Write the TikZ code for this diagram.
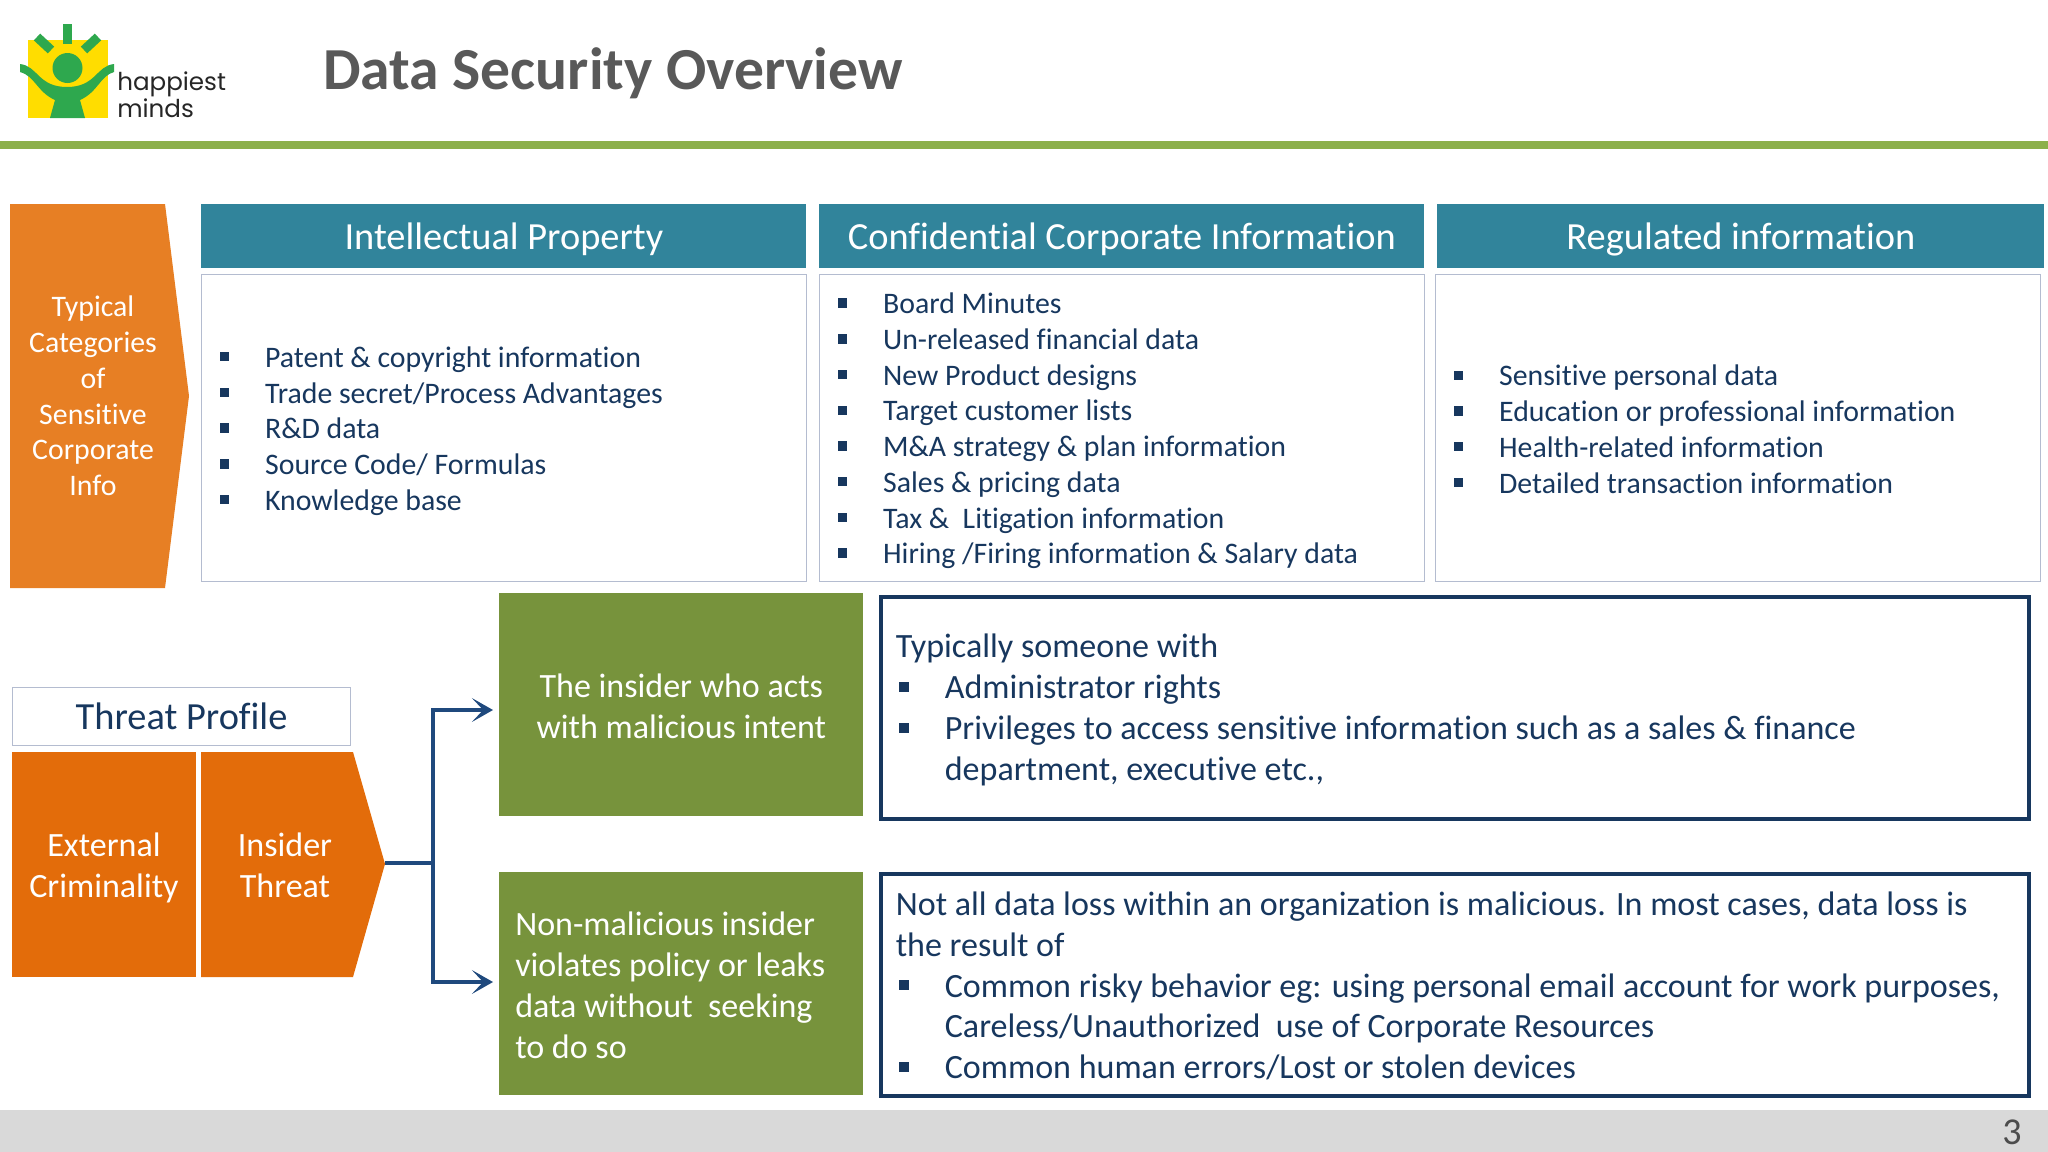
\documentclass[tikz,border=0pt]{standalone}
\usepackage{fontspec}
\setmainfont{Carlito}[Ligatures={NoCommon}]
\newfontfamily\logofont{Poppins}
\usetikzlibrary{positioning,arrows.meta}
\definecolor{headblue}{HTML}{31849B}
\definecolor{catorange}{HTML}{E77F24}
\definecolor{threatorange}{HTML}{E36C0A}
\definecolor{insidergreen}{HTML}{77933C}
\definecolor{barGreen}{HTML}{8CB04B}
\definecolor{navy}{HTML}{17375E}
\definecolor{linkblue}{HTML}{1F497D}
\definecolor{thinline}{HTML}{B4BCD0}
\definecolor{logoyellow}{HTML}{FFDD00}
\definecolor{logogreen}{HTML}{2EA84E}
\newenvironment{bulletlist}[3]{%
  \begin{list}{\rule[0.2em]{#1}{#1}}{\setlength{\topsep}{0pt}\setlength{\partopsep}{0pt}%
    \setlength{\parsep}{0pt}\setlength{\itemsep}{0pt}\setlength{\labelwidth}{#1}%
    \setlength{\leftmargin}{#3}\setlength{\labelsep}{#2}\setlength{\rightmargin}{0pt}}}%
  {\end{list}}
\newcommand{\smallfont}{\fontsize{21.2}{25.4}\selectfont}
\newcommand{\bigfont}{\fontsize{24.2}{29.1}\selectfont}
\begin{document}
\begin{tikzpicture}[x=0.025cm,y=-0.025cm, line cap=butt, line join=miter,
  header/.style={fill=headblue, text=white, font=\fontsize{27.3}{32}\selectfont, minimum width=15.125cm, minimum height=1.6cm, inner sep=0pt, anchor=north west},
  listbox/.style={draw=thinline, line width=0.7pt, text=navy, font=\smallfont, minimum height=7.675cm, text width=14.325cm, inner xsep=0.4cm, inner ysep=0pt, anchor=north west, align=flush left},
  greenbox/.style={fill=insidergreen, text=white, font=\bigfont, minimum width=9.1cm, minimum height=5.575cm, inner sep=0pt, anchor=north west},
  detailbox/.style={draw=navy, line width=2.6pt, text=navy, font=\bigfont, minimum height=5.55cm, text width=27.95cm, inner xsep=0.375cm, inner ysep=0pt, anchor=north west, align=flush left},
  logotype/.style={font=\fontsize{17.5}{21}\selectfont\logofont, text=black!85, anchor=base west, inner sep=0pt},
  flow/.style={draw=linkblue, line width=2.2pt},
  arrowflow/.style={flow, -{Stealth[length=15pt, width=17pt, inset=8pt]}}
  ]
\useasboundingbox (0,0) rectangle (2048,1152);

% logo
\fill[logoyellow] (28,40) rectangle (108,118);
\draw[logogreen, line width=6.6pt] (67.5,24) -- (67.5,44);
\draw[logogreen, line width=6.6pt] (37,37) -- (51,50);
\draw[logogreen, line width=6.6pt] (98,37) -- (84,50);
\fill[logogreen] (67.5,68) circle (15);
\fill[logogreen] (20,64) .. controls (38,66) and (38,87) .. (67,87) .. controls (96,87) and (96,66) .. (114,64)
  -- (114,72) .. controls (100,76) and (98,92) .. (80,100) -- (85,118) -- (50,118) -- (55,100) .. controls (37,92) and (35,76) .. (20,72) -- cycle;
\node[logotype] (logotop) at (117,90) {happiest};
\node[logotype] (logobottom) at (117,117) {minds};

% title and bars
\node[anchor=west, inner sep=0pt, text=black!65, font=\fontsize{42.4}{50}\selectfont\bfseries] (title) at (323,73) {Data Security Overview};
\fill[barGreen] (0,141) rectangle (2048,149);
\fill[black!15] (0,1110) rectangle (2048,1152);
\node[text=black!70, font=\fontsize{27}{32}\selectfont, inner sep=0pt] (pageno) at (2012,1132) {3};

% categories
\fill[catorange] (10,204) -- (165,204) -- (189,396) -- (165,588) -- (10,588) -- cycle;
\node[text=white, font=\smallfont, align=flush center, inner sep=0pt] (categories) at (93,396) {Typical\\Categories\\of\\Sensitive\\Corporate\\Info};

\node[header, text depth=-3pt] (ip) at (201,204) {Intellectual Property};
\node[header, text depth=-3pt] (cci) at (819,204) {Confidential Corporate Information};
\node[header, text depth=-3pt, minimum width=15.175cm] (reg) at (1437,204) {Regulated information};

\node[listbox] (ipbox) at (201,274) {\begin{bulletlist}{0.235cm}{0.895cm}{1.19cm}
  \item Patent \& copyright information
  \item Trade secret/Process Advantages
  \item R\&D data
  \item Source Code/ Formulas
  \item Knowledge base
\end{bulletlist}\vspace{6.5pt}};
\node[listbox] (ccibox) at (819,274) {\begin{bulletlist}{0.235cm}{0.895cm}{1.19cm}
  \item Board Minutes
  \item Un-released financial data
  \item New Product designs
  \item Target customer lists
  \item M\&A strategy \& plan information
  \item Sales \& pricing data
  \item Tax \&\ \ Litigation information
  \item Hiring /Firing information \& Salary data
\end{bulletlist}\vspace{6.5pt}};
\node[listbox] (regbox) at (1435,274) {\begin{bulletlist}{0.235cm}{0.895cm}{1.19cm}
  \item Sensitive personal data
  \item Education or professional information
  \item Health-related information
  \item Detailed transaction information
\end{bulletlist}\vspace{9pt}};

% threat profile
\node[draw=thinline, line width=0.7pt, text=navy, font=\fontsize{27.3}{32}\selectfont, minimum width=8.45cm, minimum height=1.45cm, inner sep=0pt, anchor=north west] (threat) at (12,687) {Threat Profile};
\fill[threatorange] (12,752) rectangle (196,977);
\node[text=white, font=\bigfont, align=flush center, inner sep=0pt] (external) at (104,868) {External\\Criminality};
\fill[threatorange] (201,752) -- (353,752) -- (385,864) -- (353,977) -- (201,977) -- cycle;
\node[text=white, font=\bigfont, align=flush center, inner sep=0pt] (insider) at (285,865.5) {Insider\\Threat};
\coordinate (tip) at (385,863);
\coordinate (bus) at (433,863);
\coordinate (uptip) at (493,710);
\coordinate (downtip) at (493,982);

\node[greenbox, align=flush center] (malicious) at (499,593) {The insider who acts\\with malicious intent\par\vspace{-2pt}};
\node[greenbox, align=flush left, text width=8.3cm, inner xsep=0.4cm] (nonmal) at (499,872) {Non-malicious insider\\violates policy or leaks\\data without\ \ seeking\\to do so\par\vspace{-2pt}};

\draw[flow] (tip) -- (bus);
\draw[arrowflow] (bus) |- (uptip);
\draw[arrowflow] (bus) |- (downtip);

\node[detailbox] (maldetail) at (879,595) {Typically someone with
\begin{bulletlist}{0.25cm}{0.9cm}{1.225cm}
  \item Administrator rights
  \item Privileges to access sensitive information such as a sales \& finance\newline department, executive etc.,
\end{bulletlist}\vspace{-3pt}};
\node[detailbox] (nonmaldetail) at (879,872) {Not all data loss within an organization is malicious. In most cases, data loss is\newline the result of
\begin{bulletlist}{0.25cm}{0.9cm}{1.225cm}
  \item Common risky behavior eg: using personal email account for work purposes,\newline Careless/Unauthorized\ \ use of Corporate Resources
  \item Common human errors/Lost or stolen devices
\end{bulletlist}\vspace{-1.5pt}};
\end{tikzpicture}
\end{document}
